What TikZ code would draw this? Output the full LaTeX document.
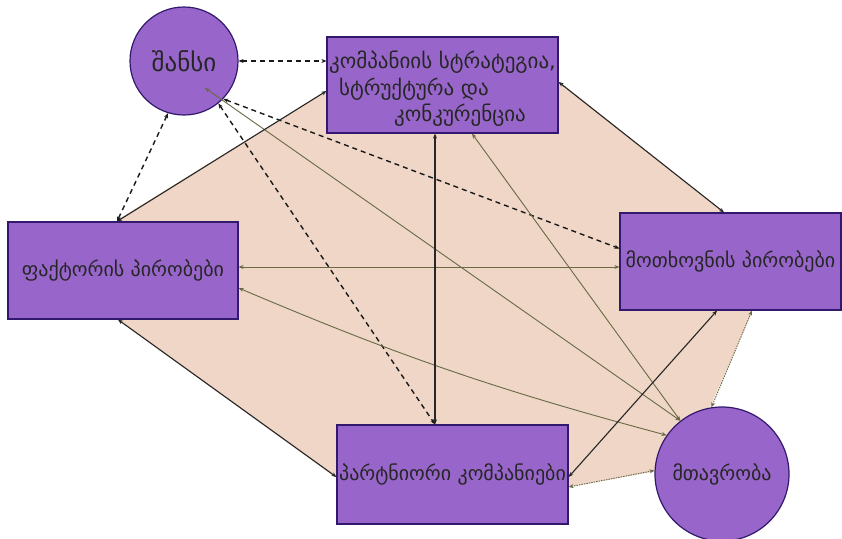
\documentclass[tikz,border=0pt]{standalone}
\usepackage{fontspec}
\newfontfamily\geo{DejaVu Sans}
\usetikzlibrary{arrows.meta}
\definecolor{peach}{RGB}{239,214,198}
\definecolor{boxfill}{RGB}{152,102,202}
\definecolor{boxline}{RGB}{50,25,110}
\definecolor{olivec}{RGB}{105,105,70}
\begin{document}
\begin{tikzpicture}[x=1pt,y=-1pt,
 box/.style={draw=boxline,line width=1.2pt,fill=boxfill,rectangle,inner sep=0pt},
 circ/.style={draw=boxline,line width=1.2pt,fill=boxfill,circle,inner sep=0pt},
 lbl/.style={font=\geo\fontsize{20}{26.5}\selectfont, text=black!85},
 tips/.style={{Stealth[length=5pt,width=4pt]}-{Stealth[length=5pt,width=4pt]}},
 solidlink/.style={tips, draw=black!85, line width=1.1pt},
 dashlink/.style={tips, draw=black!90, line width=1.4pt, dash pattern=on 5pt off 4pt},
 olivelink/.style={tips, draw=olivec, line width=0.9pt},
 dotlink/.style={tips, draw=olivec, line width=0.9pt, dash pattern=on 1.5pt off 1pt},
]
\useasboundingbox (0,0) rectangle (842,538);
\fill[white] (0,0) rectangle (842,538);
\fill[peach] (117,220) -- (326,91) -- (560,82) -- (724,212) -- (752,312) -- (711,405) -- (657,471) -- (569,487) -- (335,477) -- (118,320) -- cycle;

\node[circ,lbl,font=\geo\fontsize{25}{30}\selectfont,minimum size=108pt] (chance) at (184,61) {შანსი};
\node[box,minimum width=231pt,minimum height=96pt] (strat) at (442.5,85) {};
\node[lbl,font=\geo\fontsize{21}{26.5}\selectfont,align=left,inner sep=0pt] (strattext) at (442.5,89)
  {კომპანიის სტრატეგია,\\\hspace*{10pt}სტრუქტურა და\\\hspace*{65pt}კონკურენცია};
\node[box,lbl,minimum width=230pt,minimum height=97pt] (factor) at (123,270.5) {ფაქტორის პირობები};
\node[box,lbl,minimum width=221pt,minimum height=97pt] (demand) at (730.5,261.5) {მოთხოვნის პირობები};
\node[box,lbl,minimum width=231pt,minimum height=99pt] (partner) at (452.5,474.5) {პარტნიორი კომპანიები};
\node[circ,lbl,minimum size=134pt] (gov) at (722,474) {მთავრობა};

% dashed links from chance
\draw[dashlink] (chance.east) -- (chance.east -| strat.west);
\draw[dashlink] (chance.-107) -- ([xshift=-6pt]factor.north);
\draw[dashlink] (chance.-44) -- ([yshift=13pt]demand.west);
\draw[dashlink] (chance.-51) -- ([xshift=-17.5pt]partner.north);
% olive links from government
\draw[olivelink] (gov.128) -- ([xshift=21pt,yshift=-27pt]chance.center);
\draw[olivelink] (gov.128) -- ([xshift=29.5pt]strat.south);
\draw[olivelink] (gov.145) to[bend left=4] ([yshift=-17.5pt]factor.east);
\draw[olivelink] ([yshift=3.5pt]factor.east) -- ([yshift=-5.5pt]demand.west);
% solid links
\draw[solidlink] ([xshift=-7.5pt]strat.south) -- ([xshift=-17.5pt]partner.north);
\draw[solidlink] ([yshift=-6pt]strat.west) -- ([xshift=-6pt]factor.north);
\draw[solidlink] ([yshift=3pt]strat.east) -- ([xshift=-6.5pt]demand.north);
\draw[solidlink] ([xshift=-5pt]factor.south) -- ([yshift=-2.5pt]partner.west);
\draw[solidlink] ([yshift=-2.5pt]partner.east) -- ([xshift=-13.5pt]demand.south);
% dotted links
\draw[dotlink] ([yshift=-12.5pt]partner.east) -- (gov.177);
\draw[dotlink] (gov.99) -- ([xshift=21.5pt]demand.south);
\end{tikzpicture}
\end{document}
